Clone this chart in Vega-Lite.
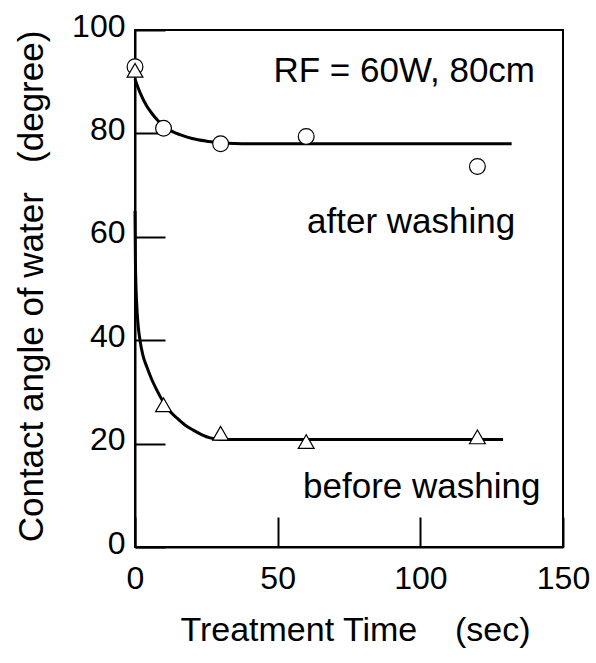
{
  "$schema": "https://vega.github.io/schema/vega-lite/v6.json",
  "width": 428,
  "height": 517,
  "autosize": "none",
  "padding": {"left": 135, "top": 30, "right": 33, "bottom": 116},
  "background": "white",
  "config": {
    "font": "Liberation Sans",
    "view": {"stroke": "black", "strokeWidth": 2},
    "axis": {
      "grid": false,
      "domainColor": "black",
      "domainWidth": 2,
      "tickColor": "black",
      "tickWidth": 2,
      "tickSize": -30,
      "labelColor": "black",
      "titleColor": "black",
      "labelFont": "Liberation Sans",
      "titleFont": "Liberation Sans",
      "labelFontSize": 32,
      "titleFontWeight": "normal"
    }
  },
  "datasets": {
    "curves": [
      {"series": "after washing", "t": 0, "angle": 90.5},
      {"series": "after washing", "t": 2, "angle": 87.6},
      {"series": "after washing", "t": 4, "angle": 85.4},
      {"series": "after washing", "t": 6, "angle": 83.8},
      {"series": "after washing", "t": 8, "angle": 82.5},
      {"series": "after washing", "t": 10, "angle": 81.5},
      {"series": "after washing", "t": 13, "angle": 80.4},
      {"series": "after washing", "t": 16, "angle": 79.7},
      {"series": "after washing", "t": 20, "angle": 79.0},
      {"series": "after washing", "t": 25, "angle": 78.5},
      {"series": "after washing", "t": 30, "angle": 78.2},
      {"series": "after washing", "t": 35, "angle": 78.05},
      {"series": "after washing", "t": 40, "angle": 78.0},
      {"series": "after washing", "t": 132, "angle": 78.0},
      {"series": "before washing", "t": 0, "angle": 65},
      {"series": "before washing", "t": 0.15, "angle": 55},
      {"series": "before washing", "t": 0.6, "angle": 47},
      {"series": "before washing", "t": 1.0, "angle": 43.5},
      {"series": "before washing", "t": 1.75, "angle": 40},
      {"series": "before washing", "t": 2.8, "angle": 37},
      {"series": "before washing", "t": 4.1, "angle": 34.9},
      {"series": "before washing", "t": 5.8, "angle": 32.5},
      {"series": "before washing", "t": 7.6, "angle": 30.4},
      {"series": "before washing", "t": 10, "angle": 28},
      {"series": "before washing", "t": 12, "angle": 26.4},
      {"series": "before washing", "t": 14.6, "angle": 25},
      {"series": "before washing", "t": 17.5, "angle": 23.6},
      {"series": "before washing", "t": 20.4, "angle": 22.6},
      {"series": "before washing", "t": 23.5, "angle": 21.7},
      {"series": "before washing", "t": 26.3, "angle": 21.1},
      {"series": "before washing", "t": 30, "angle": 20.8},
      {"series": "before washing", "t": 40, "angle": 20.8},
      {"series": "before washing", "t": 129, "angle": 20.8}
    ],
    "points": [
      {"series": "after washing", "t": 0, "angle": 92.9},
      {"series": "after washing", "t": 10, "angle": 81.0},
      {"series": "after washing", "t": 30, "angle": 78.0},
      {"series": "after washing", "t": 60, "angle": 79.4},
      {"series": "after washing", "t": 120, "angle": 73.6},
      {"series": "before washing", "t": 0, "angle": 92.2},
      {"series": "before washing", "t": 10, "angle": 27.5},
      {"series": "before washing", "t": 30, "angle": 22.0},
      {"series": "before washing", "t": 60, "angle": 20.4},
      {"series": "before washing", "t": 120, "angle": 21.3}
    ],
    "labels": [
      {"label": "RF = 60W, 80cm", "t": 140.2, "angle": 90.0, "side": "right"},
      {"label": "after washing", "t": 60.3, "angle": 60.7, "side": "left"},
      {"label": "before washing", "t": 58.9, "angle": 9.5, "side": "left"}
    ]
  },
  "encoding": {
    "x": {
      "field": "t",
      "type": "quantitative",
      "scale": {"domain": [0, 150], "nice": false},
      "axis": {
        "values": [0, 50, 100, 150],
        "title": "Treatment Time\u00a0\u00a0\u00a0\u00a0(sec)",
        "titleFontSize": 34,
        "labelPadding": 71,
        "labelBaseline": "alphabetic",
        "labelFlush": false,
        "titleX": 220,
        "titleY": 93,
        "titleBaseline": "alphabetic",
        "titleAlign": "center"
      }
    },
    "y": {
      "field": "angle",
      "type": "quantitative",
      "scale": {"domain": [0, 100], "nice": false},
      "axis": {
        "values": [0, 20, 40, 60, 80, 100],
        "title": "Contact angle of water\u00a0\u00a0\u00a0(degree)",
        "titleFontSize": 35,
        "labelPadding": 40,
        "labelOffset": -4,
        "labelBaseline": "middle",
        "labelFlush": false,
        "titleAngle": -90,
        "titleX": -93,
        "titleY": 256,
        "titleBaseline": "alphabetic",
        "titleAlign": "center"
      }
    }
  },
  "layer": [
    {
      "data": {"name": "curves"},
      "mark": {"type": "line", "color": "black", "strokeWidth": 3, "interpolate": "monotone"},
      "encoding": {"detail": {"field": "series"}}
    },
    {
      "data": {"name": "points"},
      "mark": {"type": "point", "filled": true, "fill": "white", "stroke": "black", "strokeWidth": 1.2, "opacity": 1, "size": 250},
      "encoding": {
        "shape": {
          "field": "series",
          "type": "nominal",
          "scale": {"domain": ["after washing", "before washing"], "range": ["circle", "triangle-up"]},
          "legend": null
        }
      }
    },
    {
      "data": {"name": "labels"},
      "transform": [{"filter": "datum.side === 'left'"}],
      "mark": {"type": "text", "fontSize": 35, "color": "black", "baseline": "alphabetic", "align": "left", "font": "Liberation Sans"},
      "encoding": {"text": {"field": "label"}}
    },
    {
      "data": {"name": "labels"},
      "transform": [{"filter": "datum.side === 'right'"}],
      "mark": {"type": "text", "fontSize": 35, "color": "black", "baseline": "alphabetic", "align": "right", "font": "Liberation Sans"},
      "encoding": {"text": {"field": "label"}}
    }
  ]
}
